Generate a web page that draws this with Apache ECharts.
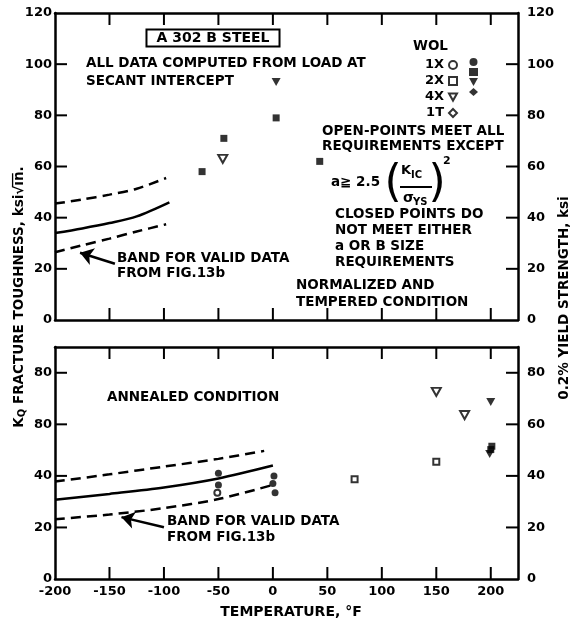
<!DOCTYPE html>
<html>
<head>
<meta charset="utf-8">
<script src="https://cdn.jsdelivr.net/npm/echarts@6/dist/echarts.min.js"></script>
<style>
  html, body { margin: 0; padding: 0; background: #fff; }
  #chart { width: 573px; height: 624px; }
</style>
</head>
<body>
<div id="chart"></div>
<script>
// ---- Temperature axis (deg F) ----
const tempMin = -200;
const tempMax = 225;
const tempStep = 50;
const tempTickLabels = ['-200', '-150', '-100', '-50', '0', '50', '100', '150', '200'];
const tempTicks = [-150, -100, -50, 0, 50, 100, 150, 200];

// ---- Upper panel: normalized and tempered condition ----
const ntMax = 120;
const ntTicks = [20, 40, 60, 80, 100];
const ntLeftLabels = ['0', '20', '40', '60', '80', '100', '120'];
const ntRightLabels = ['0', '20', '40', '60', '80', '100', '120'];
const nt2XClosed = [[-65, 58], [-45, 71], [3, 79], [43, 62]];
const nt4XOpen = [[-46, 63]];
const nt4XClosed = [[3, 93]];
// band for valid data (Fig. 13b)
const ntBandUpper = [[-200, 45.5], [-175, 47.1], [-150, 49], [-125, 51.3], [-98, 55.5]];
const ntBandMid = [[-200, 34], [-175, 35.8], [-150, 37.9], [-125, 40.5], [-95, 46]];
const ntBandLower = [[-200, 26.5], [-175, 29.2], [-150, 31.8], [-125, 34.6], [-98, 37.4]];
const ntArrow = [[-145, 22], [-177, 26.3]];

// ---- Lower panel: annealed condition ----
const anMax = 90;
const anTicks = [20, 40, 60, 80];
const anLeftLabels = ['0', '20', '40', '80', '80'];
const anRightLabels = ['0', '20', '40', '60', '80'];
const an1XClosed = [[-50, 41], [-50, 36.5], [1, 40], [0, 37], [2, 33.5]];
const an1XOpen = [[-51, 33.5]];
const an2XOpen = [[75, 38.7], [150, 45.5]];
const an2XClosed = [[201, 51.5], [200, 50.2]];
const an4XOpen = [[150, 72.6], [176, 63.6]];
const an4XClosed = [[200, 68.7], [199, 48.5]];
const anBandUpper = [[-200, 37.8], [-150, 40.6], [-100, 43.6], [-50, 46.6], [-8, 49.7]];
const anBandMid = [[-200, 30.7], [-150, 33], [-100, 35.5], [-50, 39], [0, 44]];
const anBandLower = [[-200, 23.2], [-150, 25], [-100, 27.5], [-50, 31], [0, 36.5]];
const anArrow = [[-100, 20.1], [-139, 24]];

const FONT = 'DejaVu Sans';
const INK = '#000';
const NOTE = 'bold 13.5px "' + FONT + '"';
const downTri = 'path://M0,0L10,0L5,9Z';
const TICK = 12;

const chart = echarts.init(document.getElementById('chart'), null, { renderer: 'canvas' });

const panelRects = [
  { left: 55, top: 13, width: 463, height: 307 },
  { left: 55, top: 347, width: 463, height: 232 }
];
const panelMax = [ntMax, anMax];
const panelTicks = [ntTicks, anTicks];

// grids 0-1 carry the frame lines and labels, grids 2-3 carry the data
const lineAxis = () => ({ show: true, onZero: false, lineStyle: { color: INK, width: 2.5 } });
const labelFont = () => ({ color: INK, fontFamily: FONT, fontWeight: 'bold', fontSize: 13 });

function frameX(gridIndex, position, withLabels) {
  return {
    type: 'value', gridIndex, position, min: tempMin, max: tempMax, interval: tempStep,
    axisLine: lineAxis(), axisTick: { show: false }, splitLine: { show: false },
    axisLabel: withLabels ? Object.assign({
      margin: 6, formatter: v => tempTickLabels[(v - tempMin) / tempStep] ?? ''
    }, labelFont()) : { show: false }
  };
}

function frameY(gridIndex, position, max, labels, margin) {
  return {
    type: 'value', gridIndex, position, min: 0, max, interval: 20,
    axisLine: lineAxis(), axisTick: { show: false }, splitLine: { show: false },
    axisLabel: Object.assign({ margin, formatter: v => labels[v / 20] ?? '' }, labelFont())
  };
}

function dataAxis(gridIndex, min, max) {
  return { type: 'value', gridIndex, min, max, show: false, splitLine: { show: false } };
}

// inward tick marks along one edge of a panel, placed through the panel's scales
function edgeTicks(edge, panel) {
  const values = (edge === 'left' || edge === 'right') ? panelTicks[panel] : tempTicks;
  return {
    type: 'custom', xAxisIndex: 4 + panel, yAxisIndex: 4 + panel,
    data: values.map(v => [v]), clip: false, silent: true, z: 4,
    renderItem: (params, api) => {
      const v = api.value(0);
      let p, d;
      if (edge === 'left') { p = api.coord([tempMin, v]); d = [TICK, 0]; }
      else if (edge === 'right') { p = api.coord([tempMax, v]); d = [-TICK, 0]; }
      else if (edge === 'bottom') { p = api.coord([v, 0]); d = [0, -TICK]; }
      else { p = api.coord([v, panelMax[panel]]); d = [0, TICK]; }
      return {
        type: 'line',
        shape: { x1: p[0], y1: p[1], x2: p[0] + d[0], y2: p[1] + d[1] },
        style: { stroke: INK, lineWidth: 2 }
      };
    }
  };
}

function points(name, data, symbol, size, open, panel) {
  return {
    type: 'scatter', name, data,
    xAxisIndex: 4 + panel, yAxisIndex: 4 + panel,
    symbol, symbolSize: size, z: 5, silent: true,
    itemStyle: open ? { color: '#fff', borderColor: INK, borderWidth: 2 } : { color: INK }
  };
}

function band(data, dashed, panel, arrow) {
  const s = {
    type: 'line', data, xAxisIndex: 4 + panel, yAxisIndex: 4 + panel,
    showSymbol: false, symbol: 'none', smooth: 0.3, silent: true, z: 3,
    lineStyle: { color: INK, width: 2.5, type: dashed ? [10, 6] : 'solid' }
  };
  if (arrow) {
    s.markLine = {
      silent: true, symbol: ['none', 'arrow'], symbolSize: 13,
      lineStyle: { color: INK, width: 2.5, type: 'solid' },
      itemStyle: { color: INK },
      label: { show: false },
      emphasis: { disabled: true },
      data: [[{ coord: arrow[0] }, { coord: arrow[1] }]]
    };
  }
  return s;
}

function text(x, y, str, extra) {
  return {
    type: 'text', x, y, z: 10, silent: true,
    style: Object.assign({
      text: str, fill: INK, font: NOTE,
      align: 'left', verticalAlign: 'middle'
    }, extra || {})
  };
}

const legendText = { color: INK, fontFamily: FONT, fontWeight: 'bold', fontSize: 13, lineHeight: 14 };

const tickSeries = [];
[0, 1].forEach(p => ['left', 'right', 'bottom', 'top'].forEach(e => tickSeries.push(edgeTicks(e, p))));

const option = {
  animation: false,
  backgroundColor: '#fff',
  grid: [panelRects[0], panelRects[1], panelRects[0], panelRects[1]],
  xAxis: [
    frameX(0, 'bottom', false), frameX(0, 'top', false),
    frameX(1, 'bottom', true), frameX(1, 'top', false),
    dataAxis(2, tempMin, tempMax), dataAxis(3, tempMin, tempMax)
  ],
  yAxis: [
    frameY(0, 'left', ntMax, ntLeftLabels, 3), frameY(0, 'right', ntMax, ntRightLabels, 9),
    frameY(1, 'left', anMax, anLeftLabels, 3), frameY(1, 'right', anMax, anRightLabels, 9),
    dataAxis(2, 0, ntMax), dataAxis(3, 0, anMax)
  ],
  legend: [
    {
      data: ['1X', '2X', '4X', '1T'], orient: 'vertical', left: 413, top: 53,
      align: 'right', itemWidth: 8, itemHeight: 8, itemGap: 2, selectedMode: false,
      textStyle: Object.assign({ width: 26 }, legendText)
    },
    {
      data: ['1X ', '2X ', '4X ', '1T '], orient: 'vertical', left: 464, top: 53,
      itemWidth: 9, itemHeight: 8, itemGap: 2, selectedMode: false,
      formatter: () => '', textStyle: legendText
    }
  ],
  series: [
    // empty series keep the framed grids active
    { type: 'scatter', xAxisIndex: 0, yAxisIndex: 0, data: [], silent: true },
    { type: 'scatter', xAxisIndex: 2, yAxisIndex: 2, data: [], silent: true },
    ...tickSeries,
    // upper panel
    band(ntBandUpper, true, 0),
    band(ntBandMid, false, 0),
    band(ntBandLower, true, 0, ntArrow),
    points('1X', [], 'circle', 6, true, 0),
    points('1X ', [], 'circle', 7, false, 0),
    points('2X', [], 'rect', 6, true, 0),
    points('2X ', nt2XClosed, 'rect', 7, false, 0),
    points('4X', nt4XOpen, downTri, [9, 8], true, 0),
    points('4X ', nt4XClosed, downTri, [9, 8], false, 0),
    points('1T', [], 'diamond', 8, true, 0),
    points('1T ', [], 'diamond', 9, false, 0),
    // lower panel
    band(anBandUpper, true, 1),
    band(anBandMid, false, 1),
    band(anBandLower, true, 1, anArrow),
    points('1X', an1XOpen, 'circle', 6, true, 1),
    points('1X ', an1XClosed, 'circle', 7, false, 1),
    points('2X', an2XOpen, 'rect', 6, true, 1),
    points('2X ', an2XClosed, 'rect', 7, false, 1),
    points('4X', an4XOpen, downTri, [9, 8], true, 1),
    points('4X ', an4XClosed, downTri, [9, 8], false, 1)
  ],
  graphic: [
    // panel notes
    text(213, 38, 'A 302 B STEEL', {
      align: 'center', font: 'bold 14px "' + FONT + '"',
      padding: [2, 10, 1, 10], borderColor: INK, borderWidth: 2
    }),
    text(86, 63, 'ALL DATA COMPUTED FROM LOAD AT'),
    text(86, 81, 'SECANT INTERCEPT'),
    text(413, 46, 'WOL'),
    text(322, 131, 'OPEN-POINTS MEET ALL'),
    text(322, 146, 'REQUIREMENTS EXCEPT'),
    // a >= 2.5 (K_IC / sigma_YS)^2
    text(331, 182, 'a≧ 2.5'),
    text(393, 185, '(', { align: 'center', font: '44px "' + FONT + '"' }),
    text(401, 171, 'K', { font: 'bold 13px "' + FONT + '"' }),
    text(411, 175, 'IC', { font: 'bold 10px "' + FONT + '"' }),
    { type: 'line', z: 10, silent: true, shape: { x1: 400, y1: 187, x2: 432, y2: 187 }, style: { stroke: INK, lineWidth: 2 } },
    text(403, 198, 'σ', { font: 'bold 14px "' + FONT + '"' }),
    text(413, 202, 'YS', { font: 'bold 10px "' + FONT + '"' }),
    text(437, 185, ')', { align: 'center', font: '44px "' + FONT + '"' }),
    text(443, 161, '2', { font: 'bold 11px "' + FONT + '"' }),
    text(335, 214, 'CLOSED POINTS DO'),
    text(335, 230, 'NOT MEET EITHER'),
    text(335, 246, 'a OR B SIZE'),
    text(335, 262, 'REQUIREMENTS'),
    text(296, 285, 'NORMALIZED AND'),
    text(296, 302, 'TEMPERED CONDITION'),
    text(117, 258, 'BAND FOR VALID DATA'),
    text(117, 273, 'FROM FIG.13b'),
    text(107, 397, 'ANNEALED CONDITION'),
    text(167, 521, 'BAND FOR VALID DATA'),
    text(167, 537, 'FROM FIG.13b'),
    // axis titles
    text(291, 612, 'TEMPERATURE, °F', { align: 'center', font: 'bold 14px "' + FONT + '"' }),
    {
      type: 'text', x: 19, y: 297, rotation: Math.PI / 2, z: 10, silent: true,
      style: {
        text: '{m|K}{s|Q}{m| FRACTURE TOUGHNESS, ksi√i̅n̅.}',
        fill: INK, align: 'center', verticalAlign: 'middle',
        rich: {
          m: { fontFamily: FONT, fontWeight: 'bold', fontSize: 13.5, lineHeight: 16, fill: INK, verticalAlign: 'middle' },
          s: { fontFamily: FONT, fontWeight: 'bold', fontSize: 10, lineHeight: 16, fill: INK, padding: [7, 0, 0, 0], verticalAlign: 'middle' }
        }
      }
    },
    {
      type: 'text', x: 564, y: 298, rotation: Math.PI / 2, z: 10, silent: true,
      style: {
        text: '0.2% YIELD STRENGTH, ksi', fill: INK,
        font: NOTE, align: 'center', verticalAlign: 'middle'
      }
    }
  ]
};

chart.setOption(option);
</script>
</body>
</html>
